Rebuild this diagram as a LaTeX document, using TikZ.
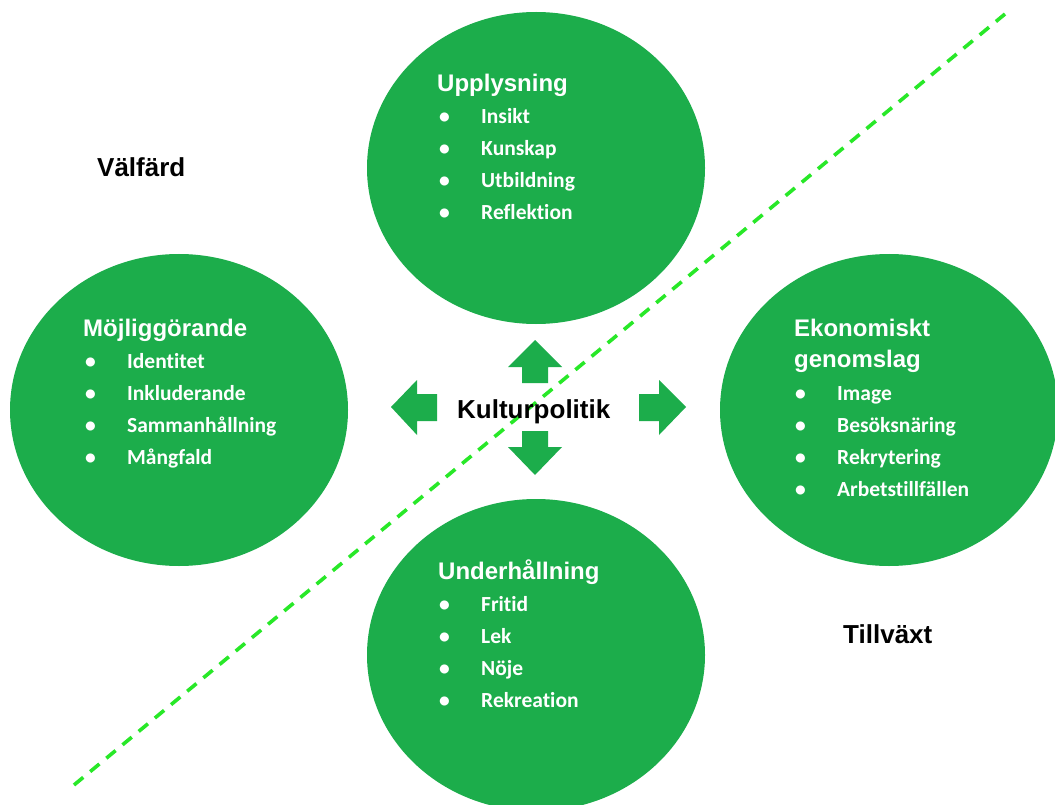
\documentclass[tikz,border=0pt]{standalone}
\usepackage{fontspec}
\setmainfont{Liberation Sans}
\newfontfamily\calfont[Ligatures=NoCommon]{Carlito}
\usetikzlibrary{shapes.geometric}
\definecolor{circgreen}{RGB}{28,173,75}
\definecolor{dashgreen}{RGB}{40,232,40}
\tikzset{
  blob/.style={ellipse, fill=circgreen, inner sep=0pt, minimum width=338pt, minimum height=312pt},
  ttl/.style={anchor=base west, inner sep=0pt, text=white, font=\fontsize{24}{28}\selectfont\bfseries},
  itm/.style={anchor=base west, inner sep=0pt, text=white, font=\calfont\fontsize{21.5}{26}\selectfont\bfseries},
  dot/.style={anchor=base west, inner sep=0pt, text=white, font=\calfont\fontsize{21.5}{26}\selectfont\bfseries},
  side/.style={anchor=base west, inner sep=0pt, text=black, font=\fontsize{26}{30}\selectfont\bfseries},
  arr/.style={fill=circgreen},
  divider/.style={draw=dashgreen, line width=3.6pt, dash pattern=on 12pt off 9pt}
}
\begin{document}
\begin{tikzpicture}[x=1pt,y=-1pt]
\useasboundingbox (0,0) rectangle (1055,805);
\fill[white] (0,0) rectangle (1055,805);
\clip (0,0) rectangle (1055,805);

% circles
\node[blob] (top) at (536,168) {};
\node[blob] (left) at (179,410) {};
\node[blob] (right) at (889,410) {};
\node[blob] (bottom) at (536,655) {};

% dashed divider
\coordinate (dA) at (74,785);
\coordinate (dB) at (1005,14);
\draw[divider] (dA) -- (dB);

% centre label
\node[side] (kp) at (457,418) {Kulturpolitik};

% arrows
\fill[arr] (535,340) -- (562,367) -- (548,367) -- (548,383) -- (522,383) -- (522,367) -- (508,367) -- cycle;
\fill[arr] (535,475) -- (562,447) -- (548,447) -- (548,431) -- (522,431) -- (522,447) -- (508,447) -- cycle;
\fill[arr] (391,407) -- (417,380) -- (417,394) -- (437,394) -- (437,421) -- (417,421) -- (417,435) -- cycle;
\fill[arr] (686,407) -- (659,380) -- (659,394) -- (639,394) -- (639,421) -- (659,421) -- (659,435) -- cycle;

% side labels
\node[side] (valfard) at (97,177) {Välfärd};
\node[side] (tillvaxt) at (843,643) {Tillväxt};

% top circle text
\node[ttl] (tT) at (437,92) {Upplysning};
\node[dot] (tb1) at (439,124) {•}; \node[itm] (t1) at (481,124) {Insikt};
\node[dot] (tb2) at (439,156) {•}; \node[itm] (t2) at (481,156) {Kunskap};
\node[dot] (tb3) at (439,188) {•}; \node[itm] (t3) at (481,188) {Utbildning};
\node[dot] (tb4) at (439,220) {•}; \node[itm] (t4) at (481,220) {Reflektion};

% left circle text
\node[ttl] (lT) at (83,336) {Möjliggörande};
\node[dot] (lb1) at (85,368) {•}; \node[itm] (l1) at (127,368) {Identitet};
\node[dot] (lb2) at (85,400) {•}; \node[itm] (l2) at (127,400) {Inkluderande};
\node[dot] (lb3) at (85,432) {•}; \node[itm] (l3) at (127,432) {Sammanhållning};
\node[dot] (lb4) at (85,464) {•}; \node[itm] (l4) at (127,464) {Mångfald};

% right circle text
\node[ttl] (rT1) at (794,336) {Ekonomiskt};
\node[ttl] (rT2) at (794,367) {genomslag};
\node[dot] (rb1) at (795,400) {•}; \node[itm] (r1) at (837,400) {Image};
\node[dot] (rb2) at (795,432) {•}; \node[itm] (r2) at (837,432) {Besöksnäring};
\node[dot] (rb3) at (795,464) {•}; \node[itm] (r3) at (837,464) {Rekrytering};
\node[dot] (rb4) at (795,496) {•}; \node[itm] (r4) at (837,496) {Arbetstillfällen};

% bottom circle text
\node[ttl] (bT) at (438,579) {Underhållning};
\node[dot] (bb1) at (439,611) {•}; \node[itm] (b1) at (481,611) {Fritid};
\node[dot] (bb2) at (439,643) {•}; \node[itm] (b2) at (481,643) {Lek};
\node[dot] (bb3) at (439,675) {•}; \node[itm] (b3) at (481,675) {Nöje};
\node[dot] (bb4) at (439,707) {•}; \node[itm] (b4) at (481,707) {Rekreation};
\end{tikzpicture}
\end{document}
